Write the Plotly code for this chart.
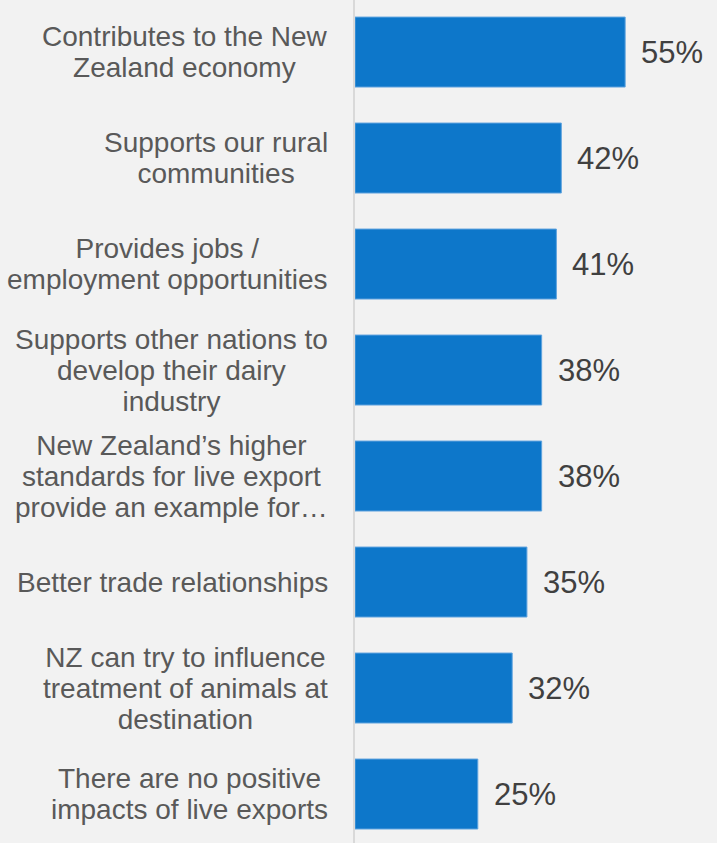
import plotly.graph_objects as go

# Survey answers, top to bottom
categories = [
    "Contributes to the New<br>Zealand economy",
    "Supports our rural<br>communities",
    "Provides jobs /<br>employment opportunities",
    "Supports other nations to<br>develop their dairy<br>industry",
    "New Zealand’s higher<br>standards for live export<br>provide an example for…",
    "Better trade relationships",
    "NZ can try to influence<br>treatment of animals at<br>destination",
    "There are no positive<br>impacts of live exports",
]
values = [55, 42, 41, 38, 38, 35, 32, 25]
value_labels = [f"{v}%" for v in values]

BAR_COLOR = '#0D77CA'
BG_COLOR = '#F2F2F2'
FAMILY = 'Liberation Sans, Arial, sans-serif'
LABEL_SIZE = 28
LINE_STEP = 31  # px between label lines; plotly spaces lines at 1.3em of the base font
VALUE_FONT = dict(family=FAMILY, size=31, color='#404040')


def label_text(cat):
    # base font sets line spacing, inner span sets the visible size
    return '<br>'.join(f'<span style="font-size:{LABEL_SIZE}px">{ln}</span>'
                       for ln in cat.split('<br>'))


fig = go.Figure()
fig.add_trace(go.Bar(
    x=values,
    y=categories,
    orientation='h',
    marker=dict(color=BAR_COLOR, line=dict(color='#5FA3DE', width=1)),
    hoverinfo='skip',
))

annotations = []
for cat in categories:
    annotations.append(dict(
        x=0, xref='paper', y=cat, yref='y',
        text=label_text(cat), showarrow=False,
        xanchor='right', yanchor='middle', align='center',
        xshift=-25,
        font=dict(family=FAMILY, size=LINE_STEP / 1.3, color='#595959'),
    ))
# value labels outside bar ends
for cat, v, lab in zip(categories, values, value_labels):
    annotations.append(dict(
        x=v, xref='x', y=cat, yref='y',
        text=lab, showarrow=False,
        xanchor='left', yanchor='middle',
        xshift=14, font=VALUE_FONT,
    ))

fig.update_layout(
    width=717, height=843,
    margin=dict(l=355, r=0, t=0, b=0),
    paper_bgcolor=BG_COLOR,
    plot_bgcolor=BG_COLOR,
    bargap=0.34,
    showlegend=False,
    annotations=annotations,
    xaxis=dict(range=[0, 73.7], visible=False, fixedrange=True),
    yaxis=dict(
        range=[7.462, -0.491],
        showticklabels=False,
        ticks='',
        showgrid=False,
        zeroline=False,
        showline=True,
        linecolor='#D9D9D9',
        linewidth=2,
        fixedrange=True,
    ),
)

fig.write_html("out.html", config={'displayModeBar': False},
               post_script="document.body.style.margin='0';")
